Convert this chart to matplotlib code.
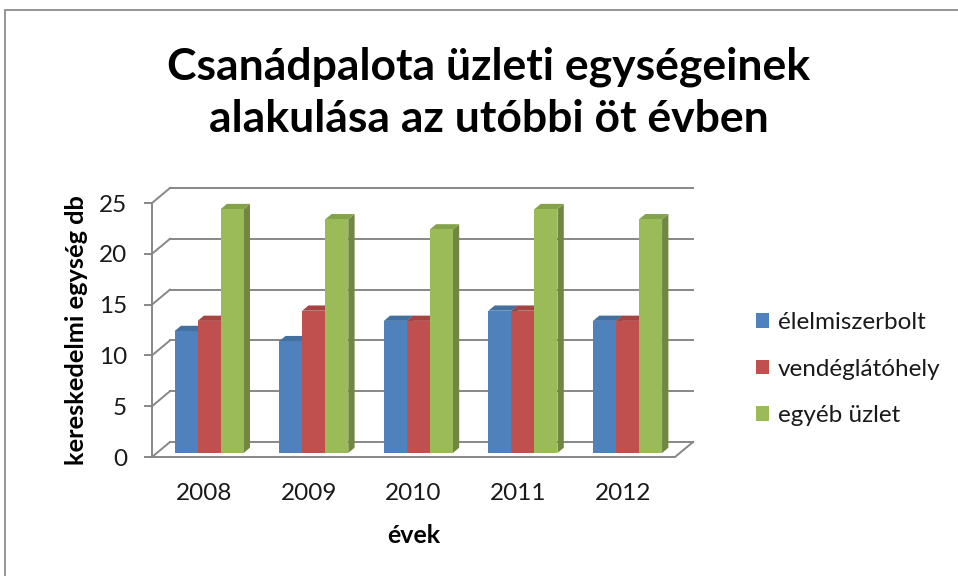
import numpy as np
import matplotlib
matplotlib.use("Agg")
import matplotlib.pyplot as plt
from matplotlib.patches import Polygon, Patch, Rectangle

years = ["2008", "2009", "2010", "2011", "2012"]
series = ["élelmiszerbolt", "vendéglátóhely", "egyéb üzlet"]
elelmiszerbolt = [12, 11, 13, 14, 13]
vendeglatohely = [13, 14, 13, 14, 13]
egyeb_uzlet = [24, 23, 22, 24, 23]
yticks = [0, 5, 10, 15, 20, 25]

front_cols = ["#4F81BD", "#C0504D", "#9BBB59"]
side_cols = ["#3A5F8C", "#8E3A38", "#6F8740"]
top_cols = ["#44709F", "#A54543", "#84A24A"]
grid_col = "#878787"
txt_col = "#1a1a1a"

plt.rcParams['font.family'] = ['Lato', 'DejaVu Sans']

W, H = 958, 576
fig = plt.figure(figsize=(W / 100, H / 100), dpi=100)

# chart border (only top/left visible in the crop)
fig.patches.append(Rectangle((5 / W, -0.1), 1.2, 1 - 10 / H + 0.1, transform=fig.transFigure,
                             fill=False, edgecolor="#8c8c8c", lw=1.3))

# front plane of the 3d box
x0, x1 = 152, 675
yb, yt = 457, 203
ax = fig.add_axes([x0 / W, 1 - yb / H, (x1 - x0) / W, (yb - yt) / H])
n = len(years)
ax.set_xlim(-0.5, n - 0.5)
ax.set_ylim(0, 25)

# depth offset (data units) of back wall
px_x = (x1 - x0) / n
px_y = (yb - yt) / 25
DX = 18 / px_x
DY = 15 / px_y

# left wall + back wall gridlines
for v in yticks:
    ax.plot([-0.5, -0.5 + DX], [v, v + DY], color=grid_col, lw=1.4, clip_on=False, zorder=1)
    ax.plot([-0.5 + DX, n - 0.5 + DX], [v + DY, v + DY], color=grid_col, lw=1.4, clip_on=False, zorder=1)
# floor outline
ax.plot([-0.5, n - 0.5, n - 0.5 + DX], [0, 0, DY], color=grid_col, lw=1.4, clip_on=False, zorder=1)

# bars
data = [elelmiszerbolt, vendeglatohely, egyeb_uzlet]
bw = 0.22
f0, f1 = 0.27, 0.62
for i in range(n):
    for s in range(3):
        v = data[s][i]
        left = i - 1.5 * bw + s * bw + f0 * DX
        base = f0 * DY
        ddx = (f1 - f0) * DX
        ddy = (f1 - f0) * DY
        front = Rectangle((left, base), bw, v, facecolor=front_cols[s], edgecolor="none", zorder=3 + s, clip_on=False)
        side = Polygon([(left + bw, base), (left + bw + ddx, base + ddy), (left + bw + ddx, base + v + ddy),
                        (left + bw, base + v)], facecolor=side_cols[s], edgecolor="none", zorder=3 + s, clip_on=False)
        top = Polygon([(left, base + v), (left + ddx, base + v + ddy), (left + bw + ddx, base + v + ddy),
                       (left + bw, base + v)], facecolor=top_cols[s], edgecolor="none", zorder=3 + s, clip_on=False)
        ax.add_patch(side)
        ax.add_patch(top)
        ax.add_patch(front)

for sp in ["top", "right", "bottom"]:
    ax.spines[sp].set_visible(False)
ax.spines["left"].set_color(grid_col)
ax.spines["left"].set_linewidth(1.4)
ax.patch.set_visible(False)

ax.set_yticks(yticks)
ax.set_yticklabels([str(t) for t in yticks], fontsize=17.5, color=txt_col)
ax.tick_params(axis="y", direction="out", length=6, width=1.4, color=grid_col, pad=12)
ax.set_xticks(range(n))
ax.set_xticklabels(years, fontsize=17.5, color=txt_col)
ax.tick_params(axis="x", length=0, pad=19)

ax.set_ylabel("kereskedelmi egység db", fontsize=18.3, fontweight="bold")
ax.yaxis.set_label_coords(-0.122, 0.5)
ax.set_xlabel("évek", fontsize=18, fontweight="bold")
ax.xaxis.set_label_coords(0.5, -0.265)

fig.text(489 / W, 1 - 93 / H, "Csanádpalota üzleti egységeinek\nalakulása az utóbbi öt évben",
         ha="center", va="center", fontsize=32, fontweight="bold", linespacing=1.35)

handles = [Patch(facecolor=c, edgecolor="none") for c in front_cols]
fig.legend(handles, series, loc="center left", bbox_to_anchor=(756 / W, 1 - 369 / H),
           frameon=False, fontsize=17.5, handlelength=0.55, handleheight=0.55,
           handletextpad=0.35, labelspacing=1.05, borderpad=0, borderaxespad=0,
           labelcolor=txt_col)

fig.savefig("out.png", dpi=100)
